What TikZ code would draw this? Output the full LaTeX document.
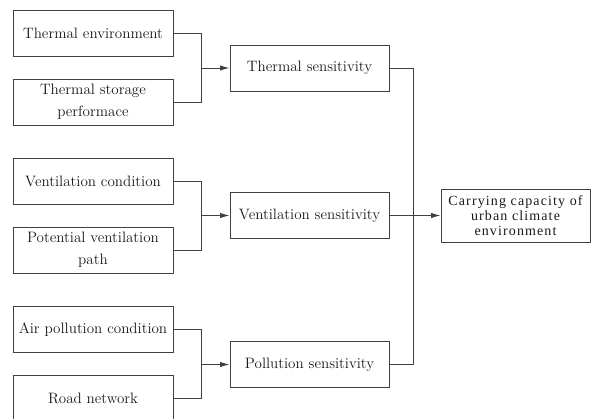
\documentclass[tikz,border=0pt]{standalone}
\usepackage{fontspec}
\newfontfamily\capfont[LetterSpace=8]{Liberation Serif}
\usetikzlibrary{arrows.meta}
\tikzset{
    factor/.style={draw=black!75, minimum width=120pt, minimum height=34.5pt, inner sep=0pt, align=center, text=black!90, font=\fontsize{11.3}{16.5}\selectfont},
    sens/.style={factor, minimum width=119.25pt},
    goal/.style={factor, minimum width=111.75pt, minimum height=39.75pt, font=\capfont\fontsize{10.5}{11.25}\selectfont},
    link/.style={-{Latex[length=7pt,width=4pt]}},
}
\begin{document}
\begin{tikzpicture}[x=0.75pt, y=-0.75pt, line width=0.75pt]
    \useasboundingbox (0,0) rectangle (591,418);
    % factors
    \node[factor] (te) at (93,33.5) {Thermal environment};
    \node[factor] (tsp) at (93,102) {Thermal storage\\performace};
    \node[factor] (vc) at (93,181) {Ventilation condition};
    \node[factor] (pvp) at (93,250) {Potential ventilation\\path};
    \node[factor] (apc) at (93,329.5) {Air pollution condition};
    \node[factor] (rn) at (93,398) {Road network};
    % sensitivities
    \node[sens] (ts) at (309.5,68) {Thermal sensitivity};
    \node[sens] (vs) at (309.5,215.5) {Ventilation sensitivity};
    \node[sens] (ps) at (309.5,364.5) {Pollution sensitivity};
    \node[goal] (cc) at (515.5,215.5) {Carrying capacity of\\urban climate\\environment};
    % joins
    \coordinate (tj) at (201,68);
    \coordinate (vj) at (201,215.5);
    \coordinate (pj) at (201,364.5);
    \coordinate (bus) at (413,215.5);
    \begin{scope}[draw=black!75]
        \draw (te.east) -| (tj);
        \draw (tsp.east) -| (tj);
        \draw[link] (tj) -- (ts.west);
        \draw (vc.east) -| (vj);
        \draw (pvp.east) -| (vj);
        \draw[link] (vj) -- (vs.west);
        \draw (apc.east) -| (pj);
        \draw (rn.east) -| (pj);
        \draw[link] (pj) -- (ps.west);
        \draw (ts.east) -| (bus);
        \draw (ps.east) -| (bus);
        \draw[link] (vs.east) -- (cc.west);
    \end{scope}
\end{tikzpicture}
\end{document}
